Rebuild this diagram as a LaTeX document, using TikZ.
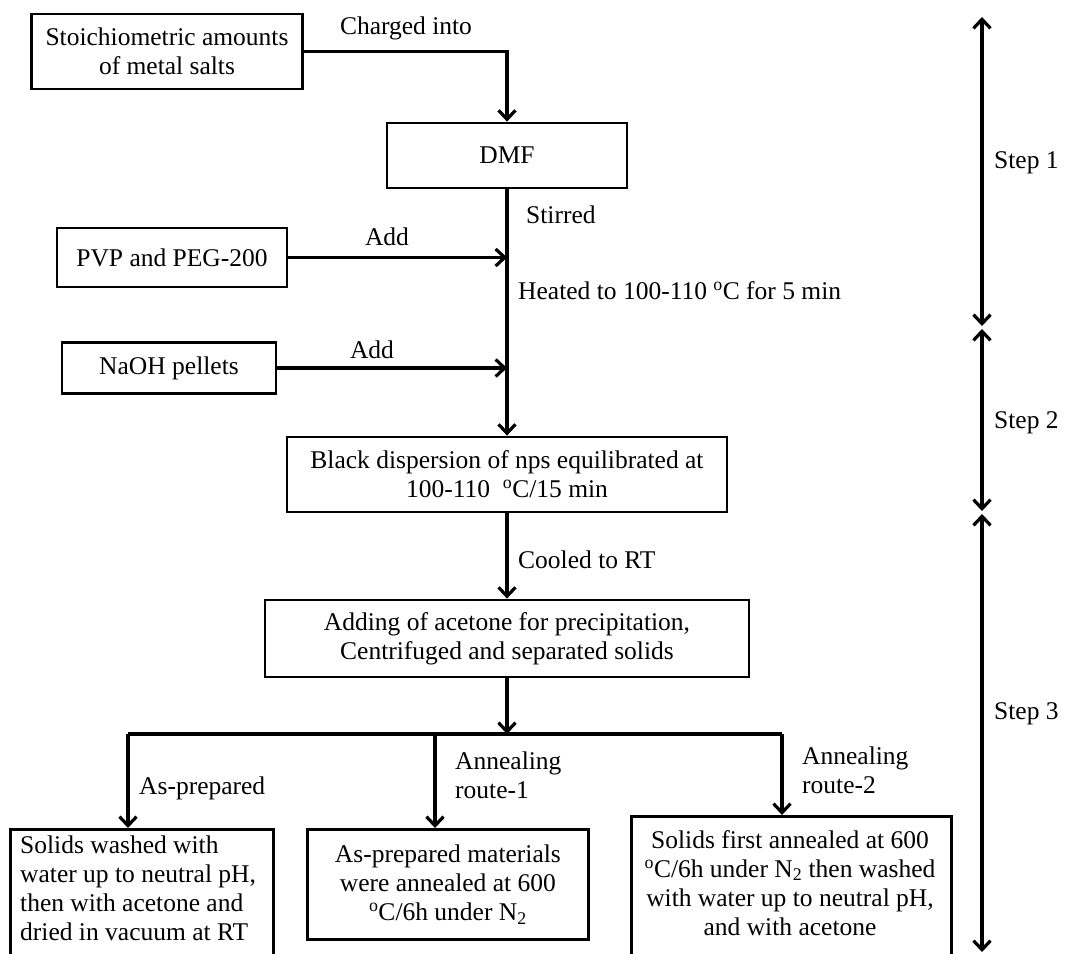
\documentclass[tikz,border=0pt]{standalone}
\usepackage{fontspec}
\setmainfont{Liberation Serif}
\usetikzlibrary{arrows.meta}
\begin{document}
\begin{tikzpicture}[x=1pt,y=-1pt,
  every node/.style={font=\fontsize{25.5}{29}\selectfont, inner sep=0pt},
  box/.style={draw, line width=2.8pt, align=center},
  conn/.style={line width=3.2pt},
  arr/.style={conn, -{Straight Barb[length=9pt,width=17pt]}},
  dblarr/.style={conn, {Straight Barb[length=9pt,width=17pt]}-{Straight Barb[length=9pt,width=17pt]}},
  lbl/.style={anchor=west, align=left}]
\useasboundingbox (0,0) rectangle (1065,953);
\clip (0,0) rectangle (1065,953);

% process boxes
\node[box, minimum width=271pt, minimum height=75pt] (salts) at (167,51.5)
  {Stoichiometric amounts\\of metal salts};
\node[box, minimum width=240pt, minimum height=65pt] (dmf) at (507,155.5) {DMF};
\node[box, minimum width=230pt, minimum height=59pt] (pvp) at (172,257.5) {PVP and PEG-200};
\node[box, minimum width=214pt, minimum height=51pt] (naoh) at (169,368) {NaOH pellets};
\node[box, minimum width=440pt, minimum height=75pt] (black) at (507,474.5)
  {Black dispersion of nps equilibrated at\\100-110 \ \textsuperscript{o}C/15 min};
\node[box, minimum width=484pt, minimum height=77pt] (acet) at (507,638.5)
  {Adding of acetone for precipitation,\\Centrifuged and separated solids};
\node[box, minimum width=263pt, minimum height=150pt, anchor=north west] (wash) at (9,828) {};
\node[anchor=north west, align=left, font=\fontsize{25.5}{29}\selectfont] (washtxt) at (20,836)
  {Solids washed with\\water up to neutral pH,\\then with acetone and\\dried in vacuum at RT};
\node[box, minimum width=281pt, minimum height=110pt, anchor=north west] (ann1) at (306,828)
  {As-prepared materials\\were annealed at 600\\\textsuperscript{o}C/6h under N\textsubscript{2}};
\node[box, minimum width=320pt, minimum height=150pt, anchor=north west] (ann2) at (630,815) {};
\node[anchor=north, align=center, font=\fontsize{25.5}{29}\selectfont] (ann2txt) at (790,830)
  {Solids first annealed at 600\\\textsuperscript{o}C/6h under N\textsubscript{2} then washed\\with water up to neutral pH,\\and with acetone};

% junction points on the main line
\coordinate (jpvp) at (pvp.east -| dmf.south);
\coordinate (jnaoh) at (naoh.east -| dmf.south);
\coordinate (split) at (507,734);
\coordinate (bl) at (128,734);
\coordinate (bm) at (435,734);
\coordinate (br) at (782,734);

% connectors
\draw[arr] (salts.east) -| (dmf.north);
\draw[conn] (dmf.south) -- (jpvp);
\draw[conn] (jpvp) -- (jnaoh);
\draw[arr] (jnaoh) -- (black.north);
\draw[arr] (pvp.east) -- (jpvp);
\draw[arr] (naoh.east) -- (jnaoh);
\draw[arr] (black.south) -- (acet.north);
\draw[arr] (acet.south) -- (split);
\draw[conn] (bl) -- (br);
\draw[arr] (bl) -- (wash.north -| bl);
\draw[arr] (bm) -- (ann1.north -| bm);
\draw[arr] (br) -- (ann2.north -| br);

% connector labels
\node (charged) at (406,28) {Charged into};
\node[lbl] (stirred) at (526,215) {Stirred};
\node (add1) at (387,237) {Add};
\node (add2) at (372,350) {Add};
\node[lbl] (heated) at (518,291) {Heated to 100-110 \textsuperscript{o}C for 5 min};
\node[lbl] (cooled) at (518,560) {Cooled to RT};
\node[lbl] (asprep) at (139,788) {As-prepared};
\node[lbl] (route1) at (455,775) {Annealing\\route-1};
\node[lbl] (route2) at (802,770) {Annealing\\route-2};

% step ranges on the right
\coordinate (s1a) at (982,17);
\coordinate (s1b) at (982,326);
\coordinate (s2a) at (982,329);
\coordinate (s2b) at (982,511);
\coordinate (s3a) at (982,514);
\coordinate (s3b) at (982,952);
\draw[dblarr] (s1a) -- (s1b);
\draw[dblarr] (s2a) -- (s2b);
\draw[dblarr] (s3a) -- (s3b);
\node[lbl] (step1) at (994,163) {Step 1};
\node[lbl] (step2) at (994,423) {Step 2};
\node[lbl] (step3) at (994,714) {Step 3};
\end{tikzpicture}
\end{document}
